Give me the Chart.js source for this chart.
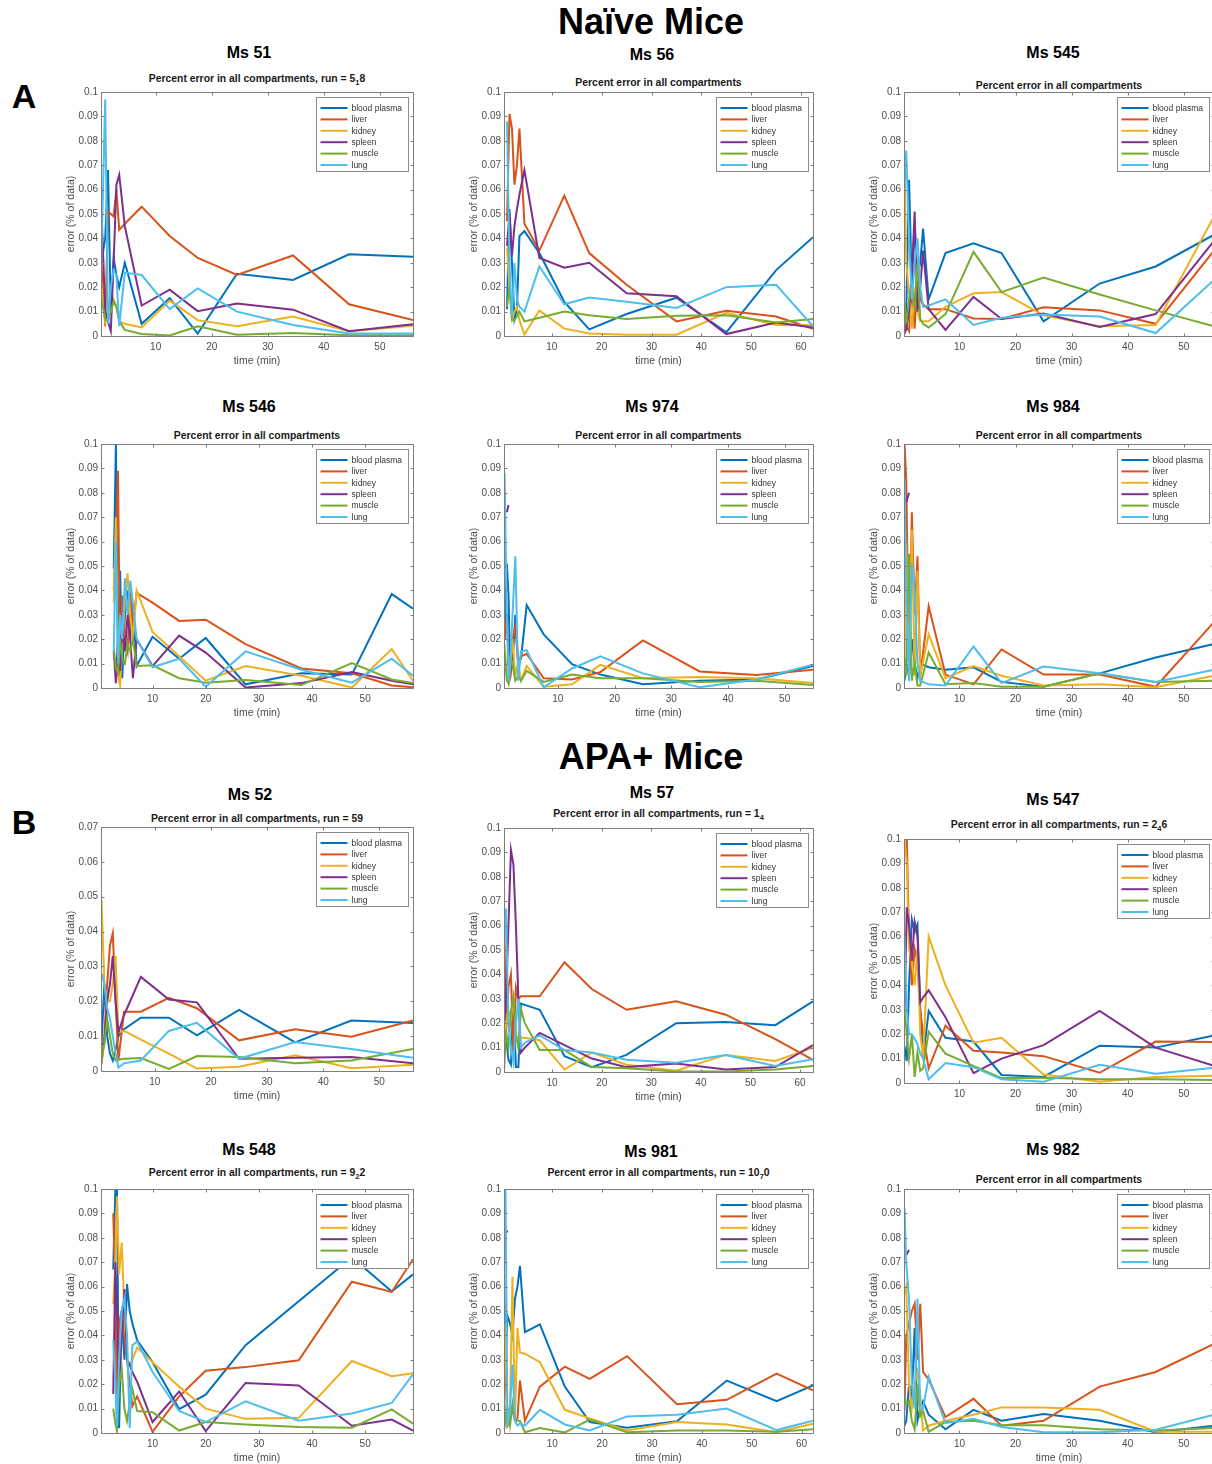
<!DOCTYPE html>
<html>
<head>
<meta charset="utf-8">
<script src="https://cdn.jsdelivr.net/npm/chart.js@4.4.1/dist/chart.umd.min.js"></script>
<style>
  body { margin: 0; width: 1212px; height: 1464px; overflow: hidden; background: #fff; position: relative;
         font-family: "Liberation Sans", Arial, sans-serif; color: #000; }
  .head { position: absolute; font-weight: bold; font-size: 36px; transform: translate(-50%, -50%); white-space: nowrap; }
  .tag { position: absolute; font-weight: bold; font-size: 34px; transform: translate(-50%, -50%); }
  .ms { position: absolute; font-weight: bold; font-size: 16px; transform: translate(-50%, -50%); white-space: nowrap; }
  .sub { position: absolute; font-weight: bold; font-size: 10.4px; line-height: 12px; color: #1a1a1a;
         transform: translate(-50%, -50%); white-space: nowrap; }
  .sub sub { font-size: 7.5px; vertical-align: -3px; line-height: 0; }
  canvas { position: absolute; }
</style>
</head>
<body>
<div class="head" style="left:651px; top:22px;">Naïve Mice</div>
<div class="head" style="left:651px; top:757px;">APA+ Mice</div>
<div class="tag" style="left:24px; top:96px;">A</div>
<div class="tag" style="left:24px; top:822px;">B</div>
<div id="panels"></div>
<script>
// compartments, in plotting order
const organs = ['blood plasma', 'liver', 'kidney', 'spleen', 'muscle', 'lung'];
const organColors = ['#0072BD', '#D95319', '#EDB120', '#7E2F8E', '#77AC30', '#4DBEEE'];

const xTicks = [10, 20, 30, 40, 50];
const xTicks60 = [10, 20, 30, 40, 50, 60];
const yTicks = [0, 0.01, 0.02, 0.03, 0.04, 0.05, 0.06, 0.07, 0.08, 0.09, 0.1];
const yTicks07 = [0, 0.01, 0.02, 0.03, 0.04, 0.05, 0.06, 0.07];

// ---------- Naive mice ----------
const ms51Time   = [0.3, 1, 1.5, 2, 2.5, 3, 3.5, 4.5, 7.5, 12.5, 17.5, 24.5, 34.5, 44.5, 55.9];
const ms51Plasma = [0.03, 0.04, 0.068, 0.01, 0.032, 0.025, 0.02, 0.03, 0.005, 0.0155, 0.001, 0.0255, 0.023, 0.0335, 0.0325];
const ms51Liver  = [0.03, 0.004, 0.051, 0.05, 0.049, 0.06, 0.0435, 0.046, 0.053, 0.041, 0.032, 0.025, 0.033, 0.013, 0.0065];
const ms51Kidney = [0.022, 0.006, 0.012, 0.01, 0.015, 0.012, 0.006, 0.005, 0.0035, 0.0145, 0.0065, 0.004, 0.008, 0.002, 0.0042];
const ms51Spleen = [0.054, 0.01, 0.006, 0.002, 0.03, 0.062, 0.066, 0.045, 0.0125, 0.019, 0.0102, 0.0133, 0.0108, 0.002, 0.0048];
const ms51Muscle = [0.0155, 0.007, 0.006, 0.01, 0.014, 0.012, 0.006, 0.0025, 0.0008, 0.0002, 0.004, 0.0005, 0.0012, 0.0003, 0.0003];
const ms51Lung   = [0.03, 0.097, 0.005, 0.02, 0.027, 0.025, 0.004, 0.026, 0.025, 0.011, 0.0195, 0.01, 0.0045, 0.001, 0.001];

const ms56Time   = [1, 1.5, 2, 2.5, 3, 3.5, 4.5, 7.5, 12.5, 17.5, 25, 35, 45, 55, 62.4];
const ms56Plasma = [0.011, 0.052, 0.03, 0.007, 0.011, 0.041, 0.043, 0.034, 0.014, 0.0027, 0.009, 0.0157, 0.0015, 0.027, 0.0405];
const ms56Liver  = [0.047, 0.091, 0.085, 0.062, 0.07, 0.085, 0.046, 0.035, 0.0575, 0.034, 0.021, 0.006, 0.0103, 0.008, 0.003];
const ms56Kidney = [0.036, 0.02, 0.007, 0.01, 0.012, 0.0065, 0.0006, 0.0105, 0.003, 0.001, 0.0005, 0.0005, 0.0095, 0.0045, 0.0045];
const ms56Spleen = [0.037, 0.05, 0.033, 0.045, 0.052, 0.058, 0.068, 0.032, 0.028, 0.03, 0.0175, 0.0163, 0.0008, 0.0055, 0.0035];
const ms56Muscle = [0.012, 0.02, 0.0065, 0.0065, 0.008, 0.01, 0.006, 0.0075, 0.01, 0.0085, 0.007, 0.0083, 0.0085, 0.0055, 0.007];
const ms56Lung   = [0.088, 0.03, 0.008, 0.03, 0.015, 0.012, 0.01, 0.0285, 0.013, 0.0158, 0.014, 0.0115, 0.02, 0.021, 0.004];

const ms545Time   = [0.2, 0.5, 1, 1.5, 2, 2.5, 3, 3.5, 4.5, 7.5, 12.5, 17.5, 25, 35, 45, 55.4];
const ms545Plasma = [0.003, 0.01, 0.064, 0.02, 0.045, 0.025, 0.03, 0.044, 0.015, 0.034, 0.038, 0.034, 0.006, 0.0215, 0.0285, 0.0415];
const ms545Liver  = [0.005, 0.004, 0.002, 0.02, 0.003, 0.025, 0.015, 0.013, 0.011, 0.011, 0.0072, 0.007, 0.0118, 0.0105, 0.005, 0.035];
const ms545Kidney = [0.074, 0.03, 0.018, 0.003, 0.02, 0.01, 0.006, 0.006, 0.006, 0.012, 0.0175, 0.018, 0.0085, 0.004, 0.0045, 0.049];
const ms545Spleen = [0.001, 0.003, 0.01, 0.025, 0.051, 0.01, 0.02, 0.035, 0.011, 0.0025, 0.016, 0.007, 0.0092, 0.0037, 0.009, 0.039];
const ms545Muscle = [0.013, 0.005, 0.015, 0.02, 0.012, 0.03, 0.007, 0.005, 0.0035, 0.009, 0.0345, 0.018, 0.024, 0.017, 0.0105, 0.004];
const ms545Lung   = [0.06, 0.076, 0.04, 0.015, 0.03, 0.04, 0.02, 0.012, 0.0125, 0.015, 0.0045, 0.0075, 0.0088, 0.008, 0.0012, 0.023];

const ms546Time   = [2.7, 3.1, 3.5, 3.9, 4.3, 4.8, 5.3, 5.8, 6.3, 7, 10, 15, 20, 27.5, 38, 47.5, 55, 59];
const ms546Plasma = [0.049, 0.1, 0.01, 0.048, 0.004, 0.03, 0.04, 0.02, 0.035, 0.009, 0.021, 0.012, 0.0205, 0.0015, 0.006, 0.0055, 0.0385, 0.0325];
const ms546Liver  = [0.04, 0.06, 0.089, 0.005, 0.038, 0.02, 0.015, 0.04, 0.025, 0.039, 0.035, 0.0275, 0.028, 0.018, 0.008, 0.006, 0.001, 0.0003];
const ms546Kidney = [0.035, 0.07, 0.005, 0.001, 0.02, 0.035, 0.047, 0.03, 0.02, 0.04, 0.023, 0.013, 0.003, 0.009, 0.005, 0.0002, 0.016, 0.003];
const ms546Spleen = [0.015, 0.002, 0.02, 0.007, 0.025, 0.015, 0.03, 0.02, 0.004, 0.02, 0.009, 0.0215, 0.0145, 0.0002, 0.002, 0.0065, 0.003, 0.0015];
const ms546Muscle = [0.016, 0.008, 0.006, 0.02, 0.012, 0.01, 0.018, 0.015, 0.02, 0.009, 0.0093, 0.004, 0.0022, 0.0033, 0.0012, 0.0102, 0.0035, 0.002];
const ms546Lung   = [0.015, 0.06, 0.01, 0.03, 0.02, 0.045, 0.03, 0.044, 0.035, 0.02, 0.0085, 0.012, 0.0005, 0.015, 0.0075, 0.0022, 0.012, 0.005];

const ms974Time   = [0.6, 1, 1.3, 1.6, 2, 2.5, 3, 3.5, 4.5, 7.5, 12.5, 17.5, 25, 35, 45, 55];
const ms974Plasma = [0.02, 0.051, 0.038, 0.005, 0.01, 0.03, 0.01, 0.012, 0.034, 0.022, 0.0098, 0.0055, 0.0015, 0.003, 0.0035, 0.009];
const ms974Liver  = [0.02, 0.03, 0.01, 0.004, 0.02, 0.025, 0.01, 0.013, 0.014, 0.004, 0.0035, 0.0065, 0.0195, 0.0068, 0.0053, 0.0075];
const ms974Kidney = [0.018, 0.005, 0.002, 0.01, 0.02, 0.005, 0.01, 0.003, 0.009, 0.0005, 0.0015, 0.0095, 0.004, 0.0045, 0.004, 0.002];
const ms974Spleen = [null, 0.072, 0.075];
const ms974Muscle = [0.0145, 0.003, 0.002, 0.012, 0.01, 0.003, 0.005, 0.003, 0.007, 0.0025, 0.0055, 0.004, 0.004, 0.0025, 0.003, 0.0012];
const ms974Lung   = [0.088, 0.03, 0.003, 0.01, 0.03, 0.054, 0.003, 0.015, 0.0155, 0.0003, 0.008, 0.013, 0.006, 0.0003, 0.0035, 0.0095];

const ms984Time   = [0.2, 0.5, 1, 1.5, 2, 2.5, 3, 4.5, 7.5, 12.5, 17.5, 25, 35, 45, 55.4];
const ms984Plasma = [0.003, 0.01, 0.005, 0.02, 0.01, 0.004, 0.01, 0.0085, 0.0075, 0.0085, 0.0025, 0.0005, 0.006, 0.0125, 0.018];
const ms984Liver  = [0.1, 0.085, 0.01, 0.072, 0.03, 0.054, 0.005, 0.0335, 0.0055, 0.0015, 0.0158, 0.0055, 0.0055, 0.0005, 0.027];
const ms984Kidney = [0.01, 0.06, 0.004, 0.065, 0.005, 0.048, 0.005, 0.022, 0.004, 0.009, 0.005, 0.001, 0.0015, 0.0003, 0.005];
const ms984Spleen = [null, 0.076, 0.08];
const ms984Muscle = [0.012, 0.005, 0.055, 0.003, 0.01, 0.001, 0.001, 0.0145, 0.0015, 0.002, 0.0005, 0.0005, 0.006, 0.0025, 0.003];
const ms984Lung   = [0.086, 0.04, 0.003, 0.051, 0.04, 0.01, 0.003, 0.0015, 0.001, 0.017, 0.002, 0.0088, 0.006, 0.0025, 0.0075];

// ---------- APA+ mice ----------
const ms52Time   = [0.5, 1, 1.5, 2, 2.5, 3, 3.5, 4.5, 7.5, 12.5, 17.5, 25, 35, 45, 56];
const ms52Plasma = [0.008, 0.025, 0.01, 0.005, 0.003, 0.006, 0.01, 0.012, 0.0153, 0.0153, 0.0102, 0.0175, 0.0082, 0.0145, 0.0138];
const ms52Liver  = [0.002, 0.01, 0.025, 0.036, 0.0395, 0.02, 0.003, 0.017, 0.017, 0.021, 0.018, 0.0088, 0.012, 0.0098, 0.0145];
const ms52Kidney = [0.049, 0.025, 0.02, 0.02, 0.025, 0.033, 0.011, 0.0115, 0.009, 0.005, 0.0007, 0.0012, 0.0045, 0.0008, 0.0018];
const ms52Spleen = [0.0075, 0.008, 0.02, 0.025, 0.033, 0.02, 0.011, 0.016, 0.027, 0.0205, 0.0197, 0.0035, 0.0038, 0.004, 0.0022];
const ms52Muscle = [0.003, 0.008, 0.015, 0.01, 0.005, 0.003, 0.0032, 0.0035, 0.0037, 0.0006, 0.0043, 0.004, 0.0022, 0.003, 0.0063];
const ms52Lung   = [0.028, 0.025, 0.018, 0.015, 0.01, 0.005, 0.001, 0.0022, 0.003, 0.0115, 0.0138, 0.0035, 0.0083, 0.0063, 0.0038];

const ms57Time   = [0.3, 0.7, 1.2, 1.7, 2.2, 2.7, 3.2, 3.7, 4.5, 7.5, 12.5, 18, 25, 35, 45, 55, 62.6];
const ms57Plasma = [0.02, 0.015, 0.005, 0.003, 0.03, 0.002, 0.002, 0.028, 0.0275, 0.0255, 0.0065, 0.002, 0.007, 0.02, 0.0205, 0.0192, 0.029];
const ms57Liver  = [0.07, 0.015, 0.035, 0.04, 0.007, 0.0345, 0.03, 0.031, 0.031, 0.031, 0.045, 0.034, 0.0255, 0.029, 0.0235, 0.0135, 0.005];
const ms57Kidney = [0.01, 0.02, 0.025, 0.022, 0.03, 0.015, 0.014, 0.014, 0.014, 0.013, 0.001, 0.008, 0.003, 0.0005, 0.007, 0.0045, 0.01];
const ms57Spleen = [0.02, 0.03, 0.06, 0.091, 0.085, 0.06, 0.03, 0.008, 0.01, 0.016, 0.011, 0.0055, 0.002, 0.0035, 0.001, 0.002, 0.011];
const ms57Muscle = [0, 0.017, 0.01, 0.025, 0.031, 0.015, 0.01, 0.026, 0.02, 0.009, 0.009, 0.002, 0.0015, 0.0002, 0.0002, 0.001, 0.0025];
const ms57Lung   = [0.053, 0.067, 0.02, 0.01, 0.004, 0.02, 0.03, 0.01, 0.012, 0.015, 0.009, 0.008, 0.005, 0.0038, 0.007, 0.0025, 0.0052];

const ms547Time   = [0.2, 0.6, 1, 1.5, 2, 2.5, 3, 3.5, 4.5, 7.5, 12.5, 17.5, 25, 35, 45, 55.4];
const ms547Plasma = [0.015, 0.009, 0.04, 0.067, 0.062, 0.065, 0.03, 0.01, 0.0295, 0.0185, 0.017, 0.0033, 0.0025, 0.0153, 0.0145, 0.0195];
const ms547Liver  = [0.1, 0.1, 0.06, 0.04, 0.055, 0.05, 0.03, 0.02, 0.006, 0.0235, 0.0132, 0.0125, 0.011, 0.0042, 0.017, 0.0168];
const ms547Kidney = [0.1, 0.09, 0.055, 0.05, 0.04, 0.055, 0.02, 0.01, 0.06, 0.04, 0.0165, 0.0185, 0.0035, 0.0005, 0.0025, 0.003];
const ms547Spleen = [0.03, 0.072, 0.065, 0.05, 0.066, 0.06, 0.033, 0.035, 0.038, 0.027, 0.004, 0.01, 0.0155, 0.0295, 0.0145, 0.007];
const ms547Muscle = [0.03, 0.02, 0.01, 0.02, 0.0025, 0.0125, 0.005, 0.006, 0.021, 0.012, 0.007, 0.002, 0.0022, 0.0015, 0.0015, 0.0012];
const ms547Lung   = [0.06, 0.03, 0.02, 0.02, 0.018, 0.016, 0.012, 0.01, 0.0015, 0.0082, 0.0065, 0.0015, 0.0005, 0.0075, 0.0038, 0.0063];

const ms548Time   = [2.6, 3, 3.3, 3.7, 4.2, 4.7, 5.2, 5.7, 6.2, 7.1, 10, 15, 20, 27.5, 37.5, 47.5, 55, 59];
const ms548Plasma = [0.067, 0.1, 0.1, 0.002, 0.05, 0.03, 0.061, 0.05, 0.045, 0.038, 0.029, 0.0098, 0.0157, 0.036, 0.054, 0.072, 0.058, 0.065];
const ms548Liver  = [0.09, 0.06, 0.002, 0.045, 0.05, 0.04, 0.03, 0.02, 0.011, 0.015, 0.0005, 0.015, 0.0255, 0.027, 0.0298, 0.062, 0.0578, 0.0712];
const ms548Kidney = [0.053, 0.07, 0.097, 0.065, 0.078, 0.05, 0.03, 0.028, 0.03, 0.035, 0.029, 0.019, 0.01, 0.0058, 0.0062, 0.0295, 0.0233, 0.0245];
const ms548Spleen = [0.016, 0.07, 0.05, 0.02, 0.04, 0.059, 0.03, 0.028, 0.025, 0.021, 0.0045, 0.017, 0.0008, 0.0205, 0.0195, 0.003, 0.0055, 0.001];
const ms548Muscle = [0.01, 0.004, 0.001, 0.02, 0.026, 0.01, 0.005, 0.012, 0.018, 0.009, 0.0085, 0.001, 0.0045, 0.0035, 0.0025, 0.0022, 0.0097, 0.0038];
const ms548Lung   = [0.038, 0.02, 0.003, 0.03, 0.05, 0.055, 0.04, 0.002, 0.036, 0.0375, 0.025, 0.009, 0.0045, 0.013, 0.005, 0.008, 0.0123, 0.024];

const ms981Time   = [0.3, 0.6, 1, 1.5, 2, 2.5, 3, 3.5, 4.5, 7.5, 12.5, 17.5, 25, 35, 45, 55, 62.3];
const ms981Plasma = [0.066, 0.03, 0.048, 0.045, 0.04, 0.055, 0.06, 0.0685, 0.0413, 0.0445, 0.019, 0.0045, 0.0022, 0.0048, 0.0215, 0.013, 0.0195];
const ms981Liver  = [0.035, 0.025, 0.003, 0.005, 0.01, 0.005, 0.006, 0.0215, 0.005, 0.019, 0.0272, 0.0222, 0.0315, 0.0118, 0.0136, 0.0243, 0.0175];
const ms981Kidney = [0.02, 0.045, 0.003, 0.01, 0.064, 0.005, 0.043, 0.033, 0.0325, 0.029, 0.0095, 0.006, 0.001, 0.0045, 0.0035, 0.0003, 0.0038];
const ms981Spleen = [null, 0.0815, 0.083];
const ms981Muscle = [0.013, 0.005, 0.01, 0.003, 0.012, 0.005, 0.005, 0.005, 0.0003, 0.002, 0.0002, 0.0055, 0.0003, 0.001, 0.001, 0.0005, 0.0015];
const ms981Lung   = [0.1, 0.1, 0.003, 0.01, 0.028, 0.005, 0.003, 0.004, 0.003, 0.0095, 0.0035, 0.001, 0.0068, 0.0075, 0.01, 0.0012, 0.005];

const ms982Time   = [0.2, 0.5, 1, 1.5, 2, 2.5, 3, 3.5, 4.5, 7.5, 12.5, 17.5, 25, 35, 45, 55.4];
const ms982Plasma = [0.003, 0.005, 0.02, 0.015, 0.043, 0.005, 0.01, 0.013, 0.0075, 0.0015, 0.0095, 0.005, 0.0078, 0.005, 0.0003, 0.003];
const ms982Liver  = [0.01, 0.04, 0.045, 0.05, 0.053, 0.03, 0.053, 0.025, 0.022, 0.0065, 0.014, 0.003, 0.005, 0.019, 0.025, 0.0365];
const ms982Kidney = [0.057, 0.06, 0.02, 0.01, 0.02, 0.025, 0.015, 0.001, 0.003, 0.005, 0.0075, 0.0105, 0.0105, 0.0095, 0.0005, 0.0005];
const ms982Spleen = [null, 0.073, 0.075];
const ms982Muscle = [0.015, 0.012, 0.013, 0.005, 0.0015, 0.02, 0.007, 0.009, 0.0005, 0.0045, 0.005, 0.0032, 0.0032, 0.0015, 0.001, 0.002];
const ms982Lung   = [0.092, 0.07, 0.055, 0.02, 0.01, 0.055, 0.01, 0.01, 0.023, 0.004, 0.0058, 0.0025, 0.0003, 0.0003, 0.0013, 0.0075];

// panel layout: axes box in page pixels, title spot, subtitle gap above the box
const FONT = "'Liberation Sans', Arial, sans-serif";
const PLOT_H = 245;
const Y_AXIS_W = 45;
const X_AXIS_H = 36;
const TOP_PAD = 8;
const SUB_MAIN = 'Percent error in all compartments';

const panels = [
  { name: 'Ms 51', run: ['5', '1', '8'], time: ms51Time,
    series: [ms51Plasma, ms51Liver, ms51Kidney, ms51Spleen, ms51Muscle, ms51Lung],
    xMin: 0.25, xMax: 55.9, xt: xTicks, yMax: 0.1, yt: yTicks,
    left: 101, top: 91, width: 312, tx: 249, ty: 53, gap: 11.7 },
  { name: 'Ms 56', run: null, time: ms56Time,
    series: [ms56Plasma, ms56Liver, ms56Kidney, ms56Spleen, ms56Muscle, ms56Lung],
    xMin: 0.4, xMax: 62.4, xt: xTicks60, yMax: 0.1, yt: yTicks,
    left: 504, top: 91, width: 309, tx: 652, ty: 55, gap: 7.7 },
  { name: 'Ms 545', run: null, time: ms545Time,
    series: [ms545Plasma, ms545Liver, ms545Kidney, ms545Spleen, ms545Muscle, ms545Lung],
    xMin: 0.1, xMax: 55.4, xt: xTicks, yMax: 0.1, yt: yTicks,
    left: 904, top: 91, width: 310, tx: 1053, ty: 53, gap: 5.5 },
  { name: 'Ms 546', run: null, time: ms546Time,
    series: [ms546Plasma, ms546Liver, ms546Kidney, ms546Spleen, ms546Muscle, ms546Lung],
    xMin: 0.3, xMax: 59, xt: xTicks, yMax: 0.1, yt: yTicks,
    left: 101, top: 443, width: 312, tx: 249, ty: 407, gap: 7.3 },
  { name: 'Ms 974', run: null, time: ms974Time,
    series: [ms974Plasma, ms974Liver, ms974Kidney, ms974Spleen, ms974Muscle, ms974Lung],
    xMin: 0.5, xMax: 55, xt: xTicks, yMax: 0.1, yt: yTicks,
    left: 504, top: 443, width: 309, tx: 652, ty: 407, gap: 7.3 },
  { name: 'Ms 984', run: null, time: ms984Time,
    series: [ms984Plasma, ms984Liver, ms984Kidney, ms984Spleen, ms984Muscle, ms984Lung],
    xMin: 0.1, xMax: 55.4, xt: xTicks, yMax: 0.1, yt: yTicks,
    left: 904, top: 443, width: 310, tx: 1053, ty: 407, gap: 7.3 },
  { name: 'Ms 52', run: ['59', '', ''], time: ms52Time,
    series: [ms52Plasma, ms52Liver, ms52Kidney, ms52Spleen, ms52Muscle, ms52Lung],
    xMin: 0.4, xMax: 56, xt: xTicks, yMax: 0.07, yt: yTicks07,
    left: 101, top: 826, width: 312, tx: 250, ty: 795, gap: 6.7 },
  { name: 'Ms 57', run: ['1', '4', ''], time: ms57Time,
    series: [ms57Plasma, ms57Liver, ms57Kidney, ms57Spleen, ms57Muscle, ms57Lung],
    xMin: 0.3, xMax: 62.6, xt: xTicks60, yMax: 0.1, yt: yTicks,
    left: 504, top: 827, width: 309, tx: 652, ty: 793, gap: 13.4 },
  { name: 'Ms 547', run: ['2', '4', '6'], time: ms547Time,
    series: [ms547Plasma, ms547Liver, ms547Kidney, ms547Spleen, ms547Muscle, ms547Lung],
    xMin: 0.1, xMax: 55.4, xt: xTicks, yMax: 0.1, yt: yTicks,
    left: 904, top: 838, width: 310, tx: 1053, ty: 800, gap: 13.4 },
  { name: 'Ms 548', run: ['9', '2', '2'], time: ms548Time,
    series: [ms548Plasma, ms548Liver, ms548Kidney, ms548Spleen, ms548Muscle, ms548Lung],
    xMin: 0.3, xMax: 59, xt: xTicks, yMax: 0.1, yt: yTicks,
    left: 101, top: 1188, width: 312, tx: 249, ty: 1150, gap: 15 },
  { name: 'Ms 981', run: ['10', '7', '0'], time: ms981Time,
    series: [ms981Plasma, ms981Liver, ms981Kidney, ms981Spleen, ms981Muscle, ms981Lung],
    xMin: 0.3, xMax: 62.3, xt: xTicks60, yMax: 0.1, yt: yTicks,
    left: 504, top: 1188, width: 309, tx: 651, ty: 1152, gap: 15 },
  { name: 'Ms 982', run: null, time: ms982Time,
    series: [ms982Plasma, ms982Liver, ms982Kidney, ms982Spleen, ms982Muscle, ms982Lung],
    xMin: 0.1, xMax: 55.4, xt: xTicks, yMax: 0.1, yt: yTicks,
    left: 904, top: 1188, width: 310, tx: 1053, ty: 1150, gap: 8.4 }
];

// axes box with inward ticks on all four sides, plus the boxed legend in the upper right
const matlabAxes = {
  id: 'matlabAxes',
  afterDatasetsDraw(chart) {
    const { ctx, chartArea: a, scales } = chart;
    const L = Math.round(a.left) + 0.5, R = Math.round(a.right) + 0.5;
    const T = Math.round(a.top) + 0.5, B = Math.round(a.bottom) + 0.5;
    ctx.save();
    ctx.strokeStyle = '#7d7d7d';
    ctx.lineWidth = 1;
    ctx.beginPath();
    ctx.rect(L, T, R - L, B - T);
    scales.x.ticks.forEach(t => {
      const px = Math.round(scales.x.getPixelForValue(t.value)) + 0.5;
      ctx.moveTo(px, B); ctx.lineTo(px, B - 3);
      ctx.moveTo(px, T); ctx.lineTo(px, T + 3);
    });
    scales.y.ticks.forEach(t => {
      const py = Math.round(scales.y.getPixelForValue(t.value)) + 0.5;
      ctx.moveTo(L, py); ctx.lineTo(L + 3, py);
      ctx.moveTo(R, py); ctx.lineTo(R - 3, py);
    });
    ctx.stroke();

    // legend
    const bw = 92, bh = 74;
    const bx = Math.round(a.right - 5 - bw) + 0.5, by = Math.round(a.top + 5) + 0.5;
    ctx.fillStyle = '#fff';
    ctx.fillRect(bx, by, bw, bh);
    ctx.strokeStyle = '#8a8a8a';
    ctx.strokeRect(bx, by, bw, bh);
    ctx.font = '8.5px ' + FONT;
    ctx.textBaseline = 'middle';
    chart.data.datasets.forEach((ds, i) => {
      const yy = by + 10.5 + i * 11.4;
      ctx.strokeStyle = ds.borderColor;
      ctx.lineWidth = 2;
      ctx.beginPath();
      ctx.moveTo(bx + 4, yy);
      ctx.lineTo(bx + 31, yy);
      ctx.stroke();
      ctx.fillStyle = '#333';
      ctx.fillText(ds.label, bx + 35, yy + 0.5);
    });
    ctx.restore();
  }
};

function fixedTicks(values) {
  return scale => { scale.ticks = values.map(v => ({ value: v })); };
}

function addText(host, cls, x, y) {
  const el = document.createElement('div');
  el.className = cls;
  el.style.left = x + 'px';
  el.style.top = y + 'px';
  host.appendChild(el);
  return el;
}

function drawPanel(p) {
  const host = document.getElementById('panels');

  addText(host, 'ms', p.tx, p.ty).textContent = p.name;

  // axes title, with the subscripted run label where there is one
  const sub = addText(host, 'sub', p.left + p.width / 2, p.top - p.gap);
  sub.appendChild(document.createTextNode(SUB_MAIN + (p.run ? ', run = ' + p.run[0] : '')));
  if (p.run && p.run[1]) {
    const s = document.createElement('sub');
    s.textContent = p.run[1];
    sub.appendChild(s);
    sub.appendChild(document.createTextNode(p.run[2]));
  }

  const canvas = document.createElement('canvas');
  canvas.width = Math.round(Y_AXIS_W + p.width + 10);
  canvas.height = TOP_PAD + PLOT_H + X_AXIS_H;
  canvas.style.left = (p.left - Y_AXIS_W) + 'px';
  canvas.style.top = (p.top - TOP_PAD) + 'px';
  host.appendChild(canvas);

  const datasets = organs.map((name, i) => ({
    label: name,
    data: p.time.map((t, k) => ({ x: t, y: k < p.series[i].length ? p.series[i][k] : null })),
    borderColor: organColors[i],
    backgroundColor: organColors[i],
    borderWidth: 2,
    pointRadius: 0,
    tension: 0,
    fill: false,
    order: organs.length - i
  }));

  const tickFont = { family: FONT, size: 10 };
  new Chart(canvas, {
    type: 'line',
    data: { datasets },
    options: {
      responsive: false,
      animation: false,
      devicePixelRatio: 1,
      events: [],
      layout: { padding: { top: TOP_PAD, right: 10, bottom: 0, left: 0 } },
      plugins: {
        legend: { display: false },
        tooltip: { enabled: false }
      },
      scales: {
        x: {
          type: 'linear',
          min: p.xMin,
          max: p.xMax,
          afterBuildTicks: fixedTicks(p.xt),
          afterFit: s => { s.height = X_AXIS_H; },
          grid: { display: false, drawTicks: false },
          border: { display: false },
          ticks: { color: '#4d4d4d', font: tickFont, padding: 5, maxRotation: 0, autoSkip: false },
          title: { display: true, text: 'time (min)', color: '#4d4d4d', font: { family: FONT, size: 10.5 },
                   padding: { top: 4.7, bottom: 4.7 } }
        },
        y: {
          min: 0,
          max: p.yMax,
          afterBuildTicks: fixedTicks(p.yt),
          afterFit: s => { s.width = Y_AXIS_W; },
          grid: { display: false, drawTicks: false },
          border: { display: false },
          ticks: { color: '#4d4d4d', font: tickFont, padding: 3, autoSkip: false,
                   callback: v => String(+v.toFixed(2)) },
          title: { display: true, text: 'error (% of data)', color: '#4d4d4d', font: { family: FONT, size: 10.5 },
                   padding: { top: 8.7, bottom: 0 } }
        }
      }
    },
    plugins: [matlabAxes]
  });
}

panels.forEach(drawPanel);
</script>
</body>
</html>
